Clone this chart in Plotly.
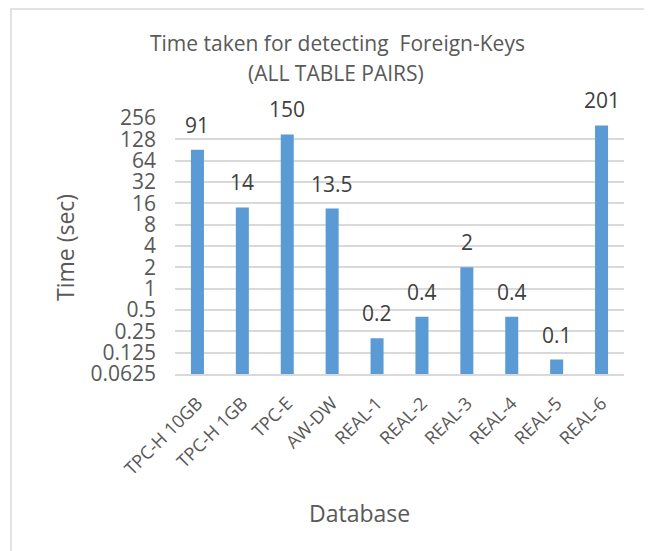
import plotly.graph_objects as go
import math

categories = ["TPC-H 10GB", "TPC-H 1GB", "TPC-E", "AW-DW", "REAL-1", "REAL-2",
              "REAL-3", "REAL-4", "REAL-5", "REAL-6"]
times = [91, 14, 150, 13.5, 0.2, 0.4, 2, 0.4, 0.1, 201]
labels = ["91", "14", "150", "13.5", "0.2", "0.4", "2", "0.4", "0.1", "201"]
tick_vals = [0.0625, 0.125, 0.25, 0.5, 1, 2, 4, 8, 16, 32, 64, 128, 256]
tick_text = ["0.0625", "0.125", "0.25", "0.5", "1", "2", "4", "8", "16", "32", "64", "128", "256"]

# page body has an 8px margin; figure is sized/placed so the picture lines up
OFF = 8
W, H = 652 - OFF, 551 - OFF
L, R, T, B = 175 - OFF, 28, 118 - OFF, 177
pw, ph = W - L - R, H - T - B


def px(x):  # screen x -> paper x
    return (x - OFF - L) / pw


def py(y):  # screen y -> paper y
    return (H - B - (y - OFF)) / ph


FONT = "Open Sans, Liberation Sans, sans-serif"
TXT = "#595959"

fig = go.Figure()
fig.add_trace(go.Bar(
    x=categories, y=times, marker=dict(color="#5B9BD5", line=dict(width=0)),
    width=0.29, hoverinfo="x+y",
))

for c, v, t in zip(categories, times, labels):
    fig.add_annotation(x=c, y=math.log10(v), text=t, showarrow=False,
                       yanchor="middle", yshift=25,
                       font=dict(family=FONT, size=21, color="#404040"))

# chart title (two lines)
fig.add_annotation(xref="paper", yref="paper", x=px(337), y=py(43),
                   text="Time taken for detecting  Foreign-Keys", showarrow=False,
                   xanchor="center", yanchor="middle",
                   font=dict(family=FONT, size=21, color=TXT))
fig.add_annotation(xref="paper", yref="paper", x=px(336), y=py(73),
                   text="(ALL TABLE PAIRS)", showarrow=False,
                   xanchor="center", yanchor="middle",
                   font=dict(family=FONT, size=21, color=TXT))

# axis titles
fig.add_annotation(xref="paper", yref="paper", x=px(65), y=py(248),
                   text="Time (sec)", showarrow=False, textangle=-90,
                   xanchor="center", yanchor="middle",
                   font=dict(family=FONT, size=23, color=TXT))
fig.add_annotation(xref="paper", yref="paper", x=px(359), y=py(513),
                   text="Database", showarrow=False,
                   xanchor="center", yanchor="middle",
                   font=dict(family=FONT, size=23, color=TXT))

# border (left and top visible)
fig.add_shape(type="rect", xref="paper", yref="paper",
              x0=px(11), x1=px(700),
              y0=py(600), y1=py(9),
              line=dict(color="#d9d9d9", width=1.5), layer="below")

fig.update_layout(
    width=W, height=H,
    margin=dict(l=L, r=R, t=T, b=B, autoexpand=False),
    paper_bgcolor="white", plot_bgcolor="white",
    showlegend=False,
    font=dict(family=FONT, color=TXT),
    xaxis=dict(
        tickangle=-45, tickfont=dict(family=FONT, size=18, color=TXT),
        showgrid=False, showline=True, linecolor="#d9d9d9", linewidth=1.5,
        ticks="", ticklabelstandoff=10,
    ),
    yaxis=dict(
        type="log", range=[math.log10(0.0625), math.log10(256)],
        tickvals=tick_vals, ticktext=tick_text,
        tickfont=dict(family=FONT, size=21, color=TXT),
        showgrid=True, gridcolor="#d9d9d9", gridwidth=1.5,
        zeroline=False, showline=False, ticks="", ticklabelstandoff=18,
    ),
)

fig.write_html("out.html")
